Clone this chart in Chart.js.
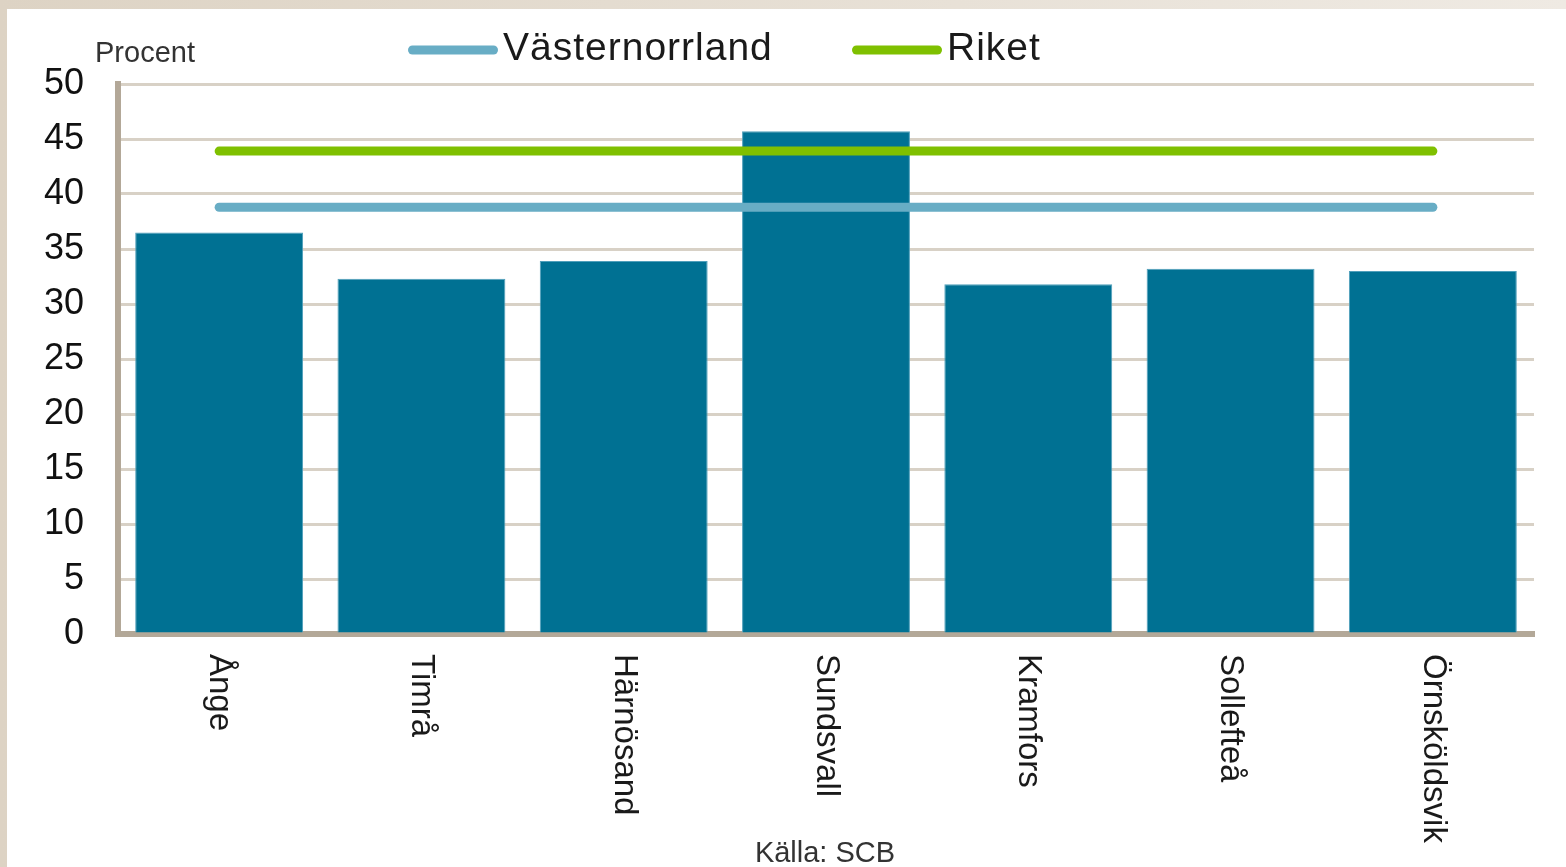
<!DOCTYPE html>
<html>
<head>
<meta charset="utf-8">
<script src="https://cdn.jsdelivr.net/npm/chart.js@4/dist/chart.umd.min.js"></script>
<style>
  html, body { margin: 0; padding: 0; }
  body { width: 1566px; height: 867px; position: relative; overflow: hidden;
         background: linear-gradient(to right, #ddd3c4, #efeae3); }
  #paper { position: absolute; left: 7px; top: 9px; right: 0; bottom: 0; background: #ffffff; }
  #wrap { position: absolute; left: 0; top: 0; width: 1566px; height: 867px; }
</style>
</head>
<body>
<div id="paper"></div>
<div id="wrap"><canvas id="c" width="1566" height="867"></canvas></div>
<script>
// ---- data ----
const categories = ['Ånge', 'Timrå', 'Härnösand', 'Sundsvall', 'Kramfors', 'Sollefteå', 'Örnsköldsvik'];
const kommunValues = [36.5, 32.3, 33.9, 45.7, 31.8, 33.2, 33.0];
const vasternorrlandValues = [38.8, 38.8, 38.8, 38.8, 38.8, 38.8, 38.8];
const riketValues = [43.9, 43.9, 43.9, 43.9, 43.9, 43.9, 43.9];
const seriesNames = ['Västernorrland', 'Riket'];
const yAxisTitle = 'Procent';
const sourceNote = 'Källa: SCB';

const FONT = '"Liberation Sans", Arial, sans-serif';
const legendX = [408, 852];

const extraText = {
  id: 'extraText',
  afterDraw(chart) {
    const ctx = chart.ctx;
    const xs = chart.scales.x;
    const area = chart.chartArea;
    ctx.save();
    // rotated category labels
    ctx.fillStyle = '#1a1a1a';
    ctx.font = '33px ' + FONT;
    ctx.textAlign = 'left';
    ctx.textBaseline = 'middle';
    categories.forEach((lab, i) => {
      const x = xs.getPixelForTick(i);
      ctx.save();
      ctx.translate(x, area.bottom + 20);
      ctx.rotate(Math.PI / 2);
      ctx.fillText(lab, 0, 0);
      ctx.restore();
    });
    // axis title
    ctx.fillStyle = '#333333';
    ctx.font = '29px ' + FONT;
    ctx.textBaseline = 'alphabetic';
    ctx.fillText(yAxisTitle, 95, 62);
    // source
    ctx.fillStyle = '#333333';
    ctx.font = '29px ' + FONT;
    ctx.textAlign = 'center';
    ctx.fillText(sourceNote, 825, 862);
    // legend (line datasets)
    ctx.font = '39px ' + FONT;
    ctx.textAlign = 'left';
    ctx.textBaseline = 'middle';
    if ('letterSpacing' in ctx) ctx.letterSpacing = '1px';
    const ly = 49;
    chart.data.datasets.filter(d => d.type === 'line').forEach((d, k) => {
      const lx = legendX[k];
      ctx.strokeStyle = d.borderColor;
      ctx.lineWidth = 9;
      ctx.lineCap = 'round';
      ctx.beginPath();
      ctx.moveTo(lx + 4.5, ly + 1);
      ctx.lineTo(lx + 90 - 4.5, ly + 1);
      ctx.stroke();
      ctx.fillStyle = '#1a1a1a';
      ctx.fillText(d.label, lx + 95, ly);
    });
    ctx.restore();
  }
};

new Chart(document.getElementById('c'), {
  data: {
    labels: categories,
    datasets: [
      { type: 'line', label: seriesNames[0], data: vasternorrlandValues,
        borderColor: '#68adc5', backgroundColor: '#68adc5', borderWidth: 9,
        borderCapStyle: 'round', pointRadius: 0, order: 0 },
      { type: 'line', label: seriesNames[1], data: riketValues,
        borderColor: '#7fc000', backgroundColor: '#7fc000', borderWidth: 9,
        borderCapStyle: 'round', pointRadius: 0, order: 1 },
      { type: 'bar', label: 'Kommun', data: kommunValues,
        backgroundColor: '#007193', borderColor: '#4f9fbb', borderWidth: 1,
        barPercentage: 0.83, categoryPercentage: 1.0, order: 2 }
    ]
  },
  options: {
    responsive: false,
    animation: false,
    devicePixelRatio: 1,
    layout: { padding: { top: 84, right: 32, left: 2, bottom: 0 } },
    plugins: { legend: { display: false }, tooltip: { enabled: false } },
    scales: {
      x: {
        grid: { display: false, drawTicks: false },
        border: { display: true, color: '#b3a898', width: 6 },
        ticks: { display: false },
        afterFit(s) { s.height = 233; }
      },
      y: {
        min: 0, max: 50,
        ticks: { stepSize: 5, color: '#111111', padding: 34,
                 font: { size: 36, family: FONT } },
        grid: { color: '#d8d1c6', lineWidth: 3, drawTicks: false },
        border: { display: true, color: '#b3a898', width: 6 },
        afterFit(s) { s.width = 116; }
      }
    }
  },
  plugins: [extraText]
});
</script>
</body>
</html>
